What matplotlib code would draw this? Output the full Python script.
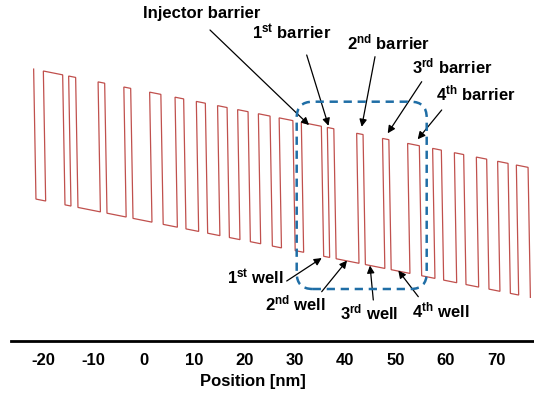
import matplotlib
matplotlib.use('Agg')
import matplotlib.pyplot as plt
from matplotlib.patches import FancyBboxPatch
from matplotlib.transforms import Affine2D

plt.rcParams['font.family'] = ['Liberation Sans', 'DejaVu Sans']
plt.rcParams['font.weight'] = 'bold'
plt.rcParams['mathtext.fontset'] = 'custom'
plt.rcParams['mathtext.rm'] = 'Liberation Sans:bold'
plt.rcParams['mathtext.bf'] = 'Liberation Sans:bold'
plt.rcParams['mathtext.it'] = 'Liberation Sans:bold'
plt.rcParams['axes.unicode_minus'] = False

# ---------------- data ----------------
# layer interfaces along growth direction (nm); profile starts inside a barrier
interfaces_nm = [-21.72, -19.79, -15.95, -14.76, -13.37, -8.91, -7.60, -3.79,
                 -2.43, 1.34, 3.57, 6.39, 8.10, 10.62, 12.41, 14.84, 16.73,
                 18.83, 20.90, 22.95, 25.27, 27.08, 29.81, 31.49, 35.47, 36.66,
                 37.95, 42.49, 43.76, 47.63, 48.89, 52.62, 54.95, 57.59, 59.32,
                 61.91, 63.76, 66.28, 68.33, 70.51, 72.58, 74.23, 76.56]
barrier_height_meV = 520.0      # conduction band offset
field_meV_per_nm = 4.0          # applied field (40 kV/cm)

tick_values = [-20, -10, 0, 10, 20, 30, 40, 50, 60, 70]
tick_labels = ['-20', '-10', '0', '10', '20', '30', '40', '50', '60', '70']
x_label = 'Position [nm]'

barrier_names = ['Injector barrier', '1$^{st}$ barrier', '2$^{nd}$ barrier',
                 '3$^{rd}$ barrier', '4$^{th}$ barrier']
well_names = ['1$^{st}$ well', '2$^{nd}$ well', '3$^{rd}$ well', '4$^{th}$ well']

# ---------------- figure ----------------
W, H = 534, 394
fig = plt.figure(figsize=(W / 100, H / 100), dpi=100)
fig.patch.set_facecolor('white')
ax = fig.add_axes([11 / W, 53.3 / H, 523 / W, 340.7 / H])
ax.set_xlim(-26.45, 77.51)
ax.set_ylim(-479.6, 883.2)

# band-edge profile
slant = 0.23
xs, es = [], []
for i, x in enumerate(interfaces_nm):
    bar = barrier_height_meV - field_meV_per_nm * x
    wel = -field_meV_per_nm * x
    if i % 2 == 0:
        pts = [(x - slant, bar), (x + slant, wel)]
    else:
        pts = [(x + slant, wel), (x - slant, bar)]
    for px, pe in pts:
        xs.append(px)
        es.append(pe)
ax.plot(xs, es, color='#C0504D', lw=0.9, solid_joinstyle='miter')

# axes styling
for side in ['left', 'right', 'top']:
    ax.spines[side].set_visible(False)
ax.spines['bottom'].set_linewidth(2.0)
ax.set_yticks([])
ax.set_xticks(tick_values)
ax.set_xticklabels(tick_labels, fontsize=12, fontweight='bold')
ax.tick_params(axis='x', length=0, pad=9)
ax.set_xlabel(x_label, fontsize=12, fontweight='bold')
ax.xaxis.label.set_va('center')
ax.xaxis.set_label_coords((253.3 - 11) / 523, (340.7 - 381.7) / 340.7)

# annotations
px = Affine2D().scale(1 / W, 1 / H) + fig.transFigure
arrow_kw = dict(arrowstyle='-|>', color='black', lw=0.9, mutation_scale=11,
                shrinkA=0, shrinkB=0)

barrier_text_pos = [(143.3, 18.3), (251.7, 39.3), (346.7, 49.0), (411.7, 73.3), (436.0, 100.0)]
barrier_arrow_from = [(210, 30), (306.7, 55), (375, 56.7), (421.7, 81.7), (441.7, 110)]
barrier_tips = [(32.79, 383), (36.66, 380), (43.26, 376), (48.43, 350), (54.39, 326)]

well_text_pos = [(226.7, 284.3), (265.0, 310.0), (340.0, 319.0), (411.7, 317.7)]
well_arrow_from = [(286.7, 281), (321.7, 291.7), (373.3, 300), (418.3, 296.7)]
well_tips = [(35.31, -149), (40.34, -159), (44.91, -179), (50.54, -199)]

for names, tpos, afrom, tips in [(barrier_names, barrier_text_pos, barrier_arrow_from, barrier_tips),
                                 (well_names, well_text_pos, well_arrow_from, well_tips)]:
    for name, (tx, ty), (fx, fy), tip in zip(names, tpos, afrom, tips):
        fig.text(tx, H - ty, name, transform=px, fontsize=12, fontweight='bold',
                 ha='left', va='baseline')
        ax.annotate('', xy=tip, xycoords='data', xytext=(fx, H - fy),
                    textcoords=px, arrowprops=arrow_kw)

# dashed rounded highlight box
box = FancyBboxPatch((296.7, H - 289), 130, 187.3,
                     boxstyle='round,pad=0,rounding_size=16',
                     transform=px, fill=False, edgecolor='#1F6EA6', lw=1.8,
                     linestyle=(0, (3.3, 2.3)))
fig.add_artist(box)

fig.savefig('out.png', dpi=100)
